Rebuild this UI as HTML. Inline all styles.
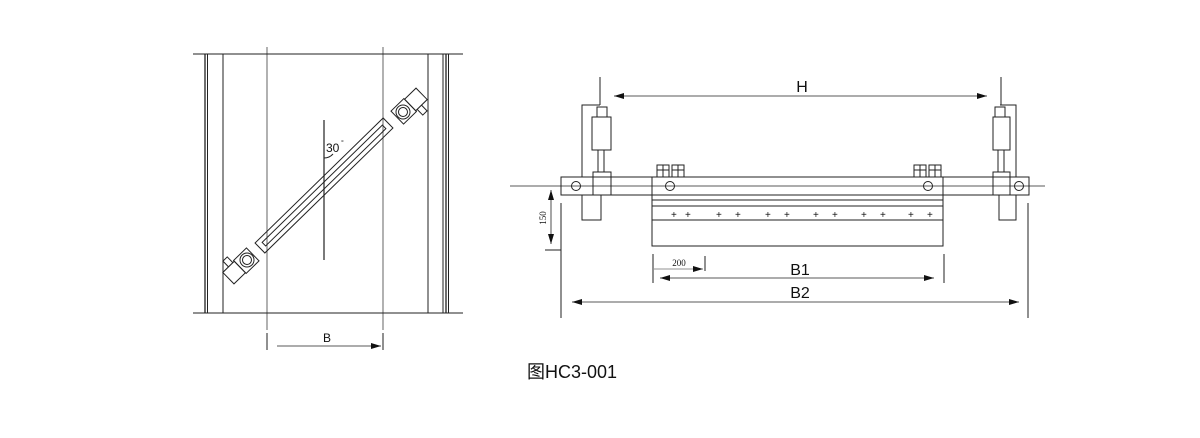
<!DOCTYPE html>
<html><head><meta charset="utf-8"><style>
html,body{margin:0;padding:0;background:#fff;}
svg{display:block;}
text{font-family:"Liberation Sans","Noto Sans CJK SC",sans-serif;fill:#111;}
</style></head><body>
<svg width="1200" height="438" viewBox="0 0 1200 438" xmlns="http://www.w3.org/2000/svg">
<defs>
<marker id="a" viewBox="0 0 10 6" refX="10" refY="3" markerWidth="10" markerHeight="6" orient="auto-start-reverse" markerUnits="userSpaceOnUse"><path d="M0,0 L10,3 L0,6 z" fill="#111"/></marker>
</defs>
<g stroke="#222" fill="none" stroke-width="1">
<!-- LEFT DRAWING -->
<line x1="193" y1="54" x2="463" y2="54"/>
<line x1="193" y1="313" x2="463" y2="313"/>
<line x1="205" y1="54" x2="205" y2="313" stroke-width="1.3"/>
<line x1="207.5" y1="54" x2="207.5" y2="313"/>
<line x1="223" y1="54" x2="223" y2="313"/>
<line x1="428" y1="54" x2="428" y2="313"/>
<line x1="443" y1="54" x2="443" y2="313"/>
<line x1="446" y1="54" x2="446" y2="313" stroke-width="1.3"/>
<line x1="448.5" y1="54" x2="448.5" y2="313"/>
<line x1="267" y1="47" x2="267" y2="330" stroke-width="0.7"/>
<line x1="383" y1="47" x2="383" y2="330" stroke-width="0.7"/>
<line x1="267" y1="333" x2="267" y2="350"/>
<line x1="383" y1="333" x2="383" y2="350"/>
<line x1="277" y1="346" x2="381" y2="346" marker-end="url(#a)" stroke-width="0.8"/>
<line x1="324" y1="120" x2="324" y2="260" stroke-width="1.2"/>
<path d="M324,158 A12,12 0 0 0 333,154"/>
<g transform="translate(324,185.5) rotate(-44.3)">
<rect x="-89.5" y="-7" width="179" height="14"/>
<rect x="-84" y="-2.5" width="168" height="5"/>
</g>
<g transform="translate(247,260) rotate(-44.3)">
<path d="M-10,-8 L-10,8 L-26,8 L-26,-8 Z"/>
<path d="M-18,-8 L-18,-16 L-12,-16 L-12,-8"/>
<rect x="-10" y="-9" width="18" height="18"/>
<circle r="7"/><circle r="4.5"/>
</g>
<g transform="translate(403,112) rotate(-44.3)">
<path d="M10,-8 L10,8 L26,8 L26,-8 Z"/>
<path d="M12,8 L12,16 L18,16 L18,8"/>
<rect x="-8" y="-9" width="18" height="18"/>
<circle r="7"/><circle r="4.5"/>
</g>

<!-- RIGHT DRAWING -->
<line x1="510" y1="186" x2="1045" y2="186" stroke-width="0.8"/>
<rect x="561" y="177" width="468" height="18"/>
<rect x="652" y="177" width="291" height="69"/>
<line x1="652" y1="200" x2="943" y2="200"/>
<line x1="652" y1="206" x2="943" y2="206"/>
<line x1="652" y1="220" x2="943" y2="220"/>
<circle cx="576" cy="186" r="4.5"/>
<circle cx="670" cy="186" r="4.5"/>
<circle cx="928" cy="186" r="4.5"/>
<circle cx="1019" cy="186" r="4.5"/>
<g>
<rect x="657" y="165" width="12" height="12"/><line x1="657" y1="170" x2="669" y2="170"/><line x1="663" y1="165" x2="663" y2="177"/>
<rect x="672" y="165" width="12" height="12"/><line x1="672" y1="170" x2="684" y2="170"/><line x1="678" y1="165" x2="678" y2="177"/>
<rect x="914" y="165" width="12" height="12"/><line x1="914" y1="170" x2="926" y2="170"/><line x1="920" y1="165" x2="920" y2="177"/>
<rect x="929" y="165" width="12" height="12"/><line x1="929" y1="170" x2="941" y2="170"/><line x1="935" y1="165" x2="935" y2="177"/>
</g>
<path d="M582,177 L582,105 L600,105"/>
<rect x="597" y="107" width="10" height="10"/>
<rect x="592" y="117" width="19" height="33"/>
<rect x="598" y="150" width="6" height="22"/>
<rect x="593" y="172" width="18" height="23"/>
<rect x="582" y="195" width="19" height="25"/>
<line x1="600" y1="77" x2="600" y2="105"/>
<path d="M1016,177 L1016,105 L1000,105"/>
<rect x="995" y="107" width="10" height="10"/>
<rect x="993" y="117" width="17" height="33"/>
<rect x="998" y="150" width="6" height="22"/>
<rect x="993" y="172" width="17" height="23"/>
<rect x="999" y="195" width="17" height="25"/>
<line x1="1001" y1="77" x2="1001" y2="105"/>
<line x1="614" y1="96" x2="987" y2="96" marker-start="url(#a)" marker-end="url(#a)" stroke-width="0.8"/>
<line x1="551" y1="190" x2="551" y2="244" marker-start="url(#a)" marker-end="url(#a)" stroke-width="0.8"/>
<line x1="545" y1="250" x2="561" y2="250"/>
<line x1="561" y1="203" x2="561" y2="318"/>
<line x1="1028" y1="203" x2="1028" y2="318"/>
<line x1="653" y1="254" x2="653" y2="283"/>
<line x1="705" y1="256" x2="705" y2="271"/>
<line x1="944" y1="254" x2="944" y2="283"/>
<line x1="654" y1="269" x2="703" y2="269" marker-end="url(#a)" stroke-width="0.6"/>
<line x1="660" y1="278" x2="934" y2="278" marker-start="url(#a)" marker-end="url(#a)" stroke-width="0.8"/>
<line x1="572" y1="302" x2="1019" y2="302" marker-start="url(#a)" marker-end="url(#a)" stroke-width="0.8"/>
</g>
<g style="font-size:10px">
<text x="671" y="218">+</text><text x="685" y="218">+</text>
<text x="716" y="218">+</text><text x="735" y="218">+</text>
<text x="765" y="218">+</text><text x="784" y="218">+</text>
<text x="813" y="218">+</text><text x="832" y="218">+</text>
<text x="861" y="218">+</text><text x="880" y="218">+</text>
<text x="908" y="218">+</text><text x="927" y="218">+</text>
</g>
<text x="802" y="92" font-size="16" text-anchor="middle">H</text>
<text x="800" y="275" font-size="16" text-anchor="middle">B1</text>
<text x="800" y="298" font-size="16" text-anchor="middle">B2</text>
<text x="679" y="266" font-size="9" text-anchor="middle" style="font-family:'Liberation Serif',serif">200</text>
<text transform="translate(546,218) rotate(-90)" font-size="9" text-anchor="middle" style="font-family:'Liberation Serif',serif">150</text>
<text x="327" y="342" font-size="12" text-anchor="middle">B</text>
<text x="326" y="152" font-size="12">30</text>
<text x="341" y="145" font-size="7">°</text>
<text x="527" y="378" font-size="18">图HC3-001</text>
</svg>
</body></html>
